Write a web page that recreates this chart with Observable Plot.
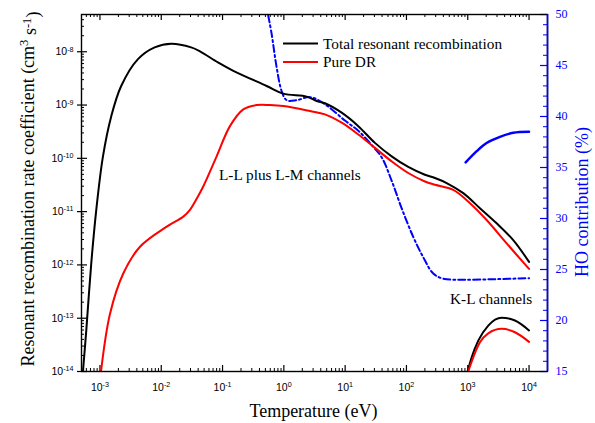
<!DOCTYPE html>
<html><head><meta charset="utf-8">
<script src="https://cdn.jsdelivr.net/npm/d3@7"></script>
<script src="https://cdn.jsdelivr.net/npm/@observablehq/plot@0.6"></script>
<style>body{margin:0;background:#fff}</style>
</head><body><div id="chart"></div>
<script>
// ---- data ----
const totalLL_T = [5.28e-4, 5.98e-4, 7.21e-4, 8.71e-4, 1.12e-3, 1.53e-3, 2.22e-3, 4.17e-3, 7.8e-3, 1.46e-2, 3.08e-2, 4.28e-2, 8.41e-2, 0.150, 0.524, 0.977, 2.355, 3.43, 4.68, 8.77, 16.4, 30.6, 57.4, 107, 200, 292, 453, 845, 1581, 2958, 5521, 1e4];
const totalLL_v = [1e-14, 5.86e-14, 1.06e-12, 1.08e-11, 1.09e-10, 6.19e-10, 2.28e-9, 7.28e-9, 1.21e-8, 1.42e-8, 1.21e-8, 1.02e-8, 6.31e-9, 4.39e-9, 2.28e-9, 1.64e-9, 1.44e-9, 1.19e-9, 1.08e-9, 7.19e-10, 4.02e-10, 1.95e-10, 1.09e-10, 6.89e-11, 4.92e-11, 4.27e-11, 3.44e-11, 2.22e-11, 1.16e-11, 6.04e-12, 2.92e-12, 1.14e-12];
const pureLL_T = [1.04e-3, 1.46e-3, 2.40e-3, 4.50e-3, 1.23e-2, 2.29e-2, 2.94e-2, 3.78e-2, 4.84e-2, 8.01e-2, 0.132, 0.218, 0.360, 0.593, 0.977, 2.67, 4.68, 8.77, 16.4, 30.6, 57.4, 107, 200, 292, 581, 1087, 2032, 4315, 1e4];
const pureLL_v = [1e-14, 1.21e-13, 6.89e-13, 2.19e-12, 5.22e-12, 8.05e-12, 1.08e-11, 1.74e-11, 2.96e-11, 1.09e-10, 4.02e-10, 8.30e-10, 1.0e-9, 1.0e-9, 9.58e-10, 7.71e-10, 6.68e-10, 4.66e-10, 2.80e-10, 1.57e-10, 8.77e-11, 5.31e-11, 3.68e-11, 3.19e-11, 2.56e-11, 1.44e-11, 6.97e-12, 2.54e-12, 8.4e-13];
const totalKL_T = [995, 1159, 1484, 2161, 3573, 5888, 1e4];
const totalKL_v = [1e-14, 1.84e-14, 3.79e-14, 7.28e-14, 1.02e-13, 9.06e-14, 5.9e-14];
const pureKL_T = [1018, 1230, 1581, 2161, 3573, 5888, 1e4];
const pureKL_v = [1e-14, 1.84e-14, 3.52e-14, 5.21e-14, 6.31e-14, 5.45e-14, 3.6e-14];
// HO contribution (%), right axis
const hoLL_T = [0.556, 0.632, 0.764, 0.92, 1.11, 1.62, 2.67, 4.68, 9.93, 16.4, 27.1, 39.4, 57.4, 83.6, 129, 188, 274, 398, 845, 2750, 1e4];
const hoLL_p = [49.9, 48.1, 44.8, 42.5, 41.6, 41.6, 41.9, 41.2, 39.6, 38.6, 37.2, 36.0, 33.7, 31.0, 28.2, 26.2, 24.6, 24.1, 24.0, 24.05, 24.15];
const hoKL_T = [925, 1400, 2030, 3350, 5520, 1e4];
const hoKL_p = [35.5, 36.6, 37.4, 38.0, 38.4, 38.5];

// tick labels
const xMajor = [1e-3, 1e-2, 1e-1, 1e0, 1e1, 1e2, 1e3, 1e4];
const yMajor = [1e-14, 1e-13, 1e-12, 1e-11, 1e-10, 1e-9, 1e-8];
const pMajor = [15, 20, 25, 30, 35, 40, 45, 50];

// ---- layout ----
const W = 595, H = 423, mL = 81, mR = 48, mT = 14, mB = 52;
const iw = W - mL - mR, ih = H - mT - mB;
const xDom = [5e-4, 2e4], yDom = [1e-14, 5e-8], pDom = [15, 50];
const BLUE = "#0000ff", RED = "#ff0000";
const lyLo = Math.log10(yDom[0]), lyHi = Math.log10(yDom[1]);
const pToY = p => Math.pow(10, lyLo + (p - pDom[0]) / (pDom[1] - pDom[0]) * (lyHi - lyLo));

const xMinor = [], yMinor = [], pMinor = [];
for (let k = -4; k <= 4; k++) for (let m = 2; m <= 9; m++) { const v = m * 10 ** k; if (v > xDom[0] * 1.0001 && v < xDom[1] * 0.9999) xMinor.push(v); }
for (let k = -14; k <= -8; k++) for (let m = 2; m <= 9; m++) { const v = m * 10 ** k; if (v > yDom[0] && v < yDom[1] * 0.9999) yMinor.push(v); }
for (let p = 16; p < 50; p++) if (p % 5) pMinor.push(p);

const zipTV = (T, v) => T.map((t, i) => ({T: t, v: v[i]}));
const zipTP = (T, p) => T.map((t, i) => ({T: t, v: pToY(p[i])}));
const pMajorRows = pMajor.map(p => ({v: pToY(p), label: String(p)}));
const pMinorRows = pMinor.map(p => ({v: pToY(p)}));

const expFmt = d => "10^" + Math.round(Math.log10(d));
const serif = "Liberation Serif, Times New Roman, serif";

const svg = Plot.plot({
  width: W, height: H, marginLeft: mL, marginRight: mR, marginTop: mT, marginBottom: mB,
  x: {type: "log", domain: xDom, axis: null},
  y: {type: "log", domain: yDom, axis: null},
  style: {fontFamily: "Liberation Sans, Arial, sans-serif", fontSize: "10.5px", background: "white", color: "black"},
  marks: [
    Plot.axisX({ticks: xMajor, tickSize: 0, tickPadding: 12, tickFormat: expFmt, label: null}),
    Plot.axisY({ticks: yMajor, tickSize: 0, tickPadding: 8, tickFormat: expFmt, label: null}),
    // right axis labels
    Plot.text(pMajorRows, {y: "v", text: "label", frameAnchor: "right", dx: 8, textAnchor: "start", fill: BLUE, fontFamily: serif, fontSize: 12}),
    // inward ticks, bottom & top
    Plot.tickX(xMajor, {x: d => d, insetTop: ih - 6, stroke: "black", strokeWidth: 1.2}),
    Plot.tickX(xMinor, {x: d => d, insetTop: ih - 3, stroke: "black", strokeWidth: 1}),
    Plot.tickX(xMajor, {x: d => d, insetBottom: ih - 6, stroke: "black", strokeWidth: 1.2}),
    Plot.tickX(xMinor, {x: d => d, insetBottom: ih - 3, stroke: "black", strokeWidth: 1}),
    // left ticks
    Plot.tickY(yMajor, {y: d => d, insetLeft: -4, insetRight: iw - 6, stroke: "black", strokeWidth: 1.2}),
    Plot.tickY(yMinor, {y: d => d, insetRight: iw - 3, stroke: "black", strokeWidth: 1}),
    // right blue ticks
    Plot.tickY(pMajorRows, {y: "v", insetLeft: iw - 7, stroke: BLUE, strokeWidth: 1.2}),
    Plot.tickY(pMinorRows, {y: "v", insetLeft: iw - 4, stroke: BLUE, strokeWidth: 1}),
    // curves
    Plot.line(zipTP(hoLL_T, hoLL_p), {x: "T", y: "v", stroke: BLUE, strokeWidth: 2, strokeDasharray: "7,3,2,3", curve: "catmull-rom", clip: true}),
    Plot.line(zipTP(hoKL_T, hoKL_p), {x: "T", y: "v", stroke: BLUE, strokeWidth: 2.5, curve: "catmull-rom", clip: true}),
    Plot.line(zipTV(totalLL_T, totalLL_v), {x: "T", y: "v", stroke: "black", strokeWidth: 2, curve: "catmull-rom", clip: true}),
    Plot.line(zipTV(pureLL_T, pureLL_v), {x: "T", y: "v", stroke: RED, strokeWidth: 2, curve: "catmull-rom", clip: true}),
    Plot.line(zipTV(totalKL_T, totalKL_v), {x: "T", y: "v", stroke: "black", strokeWidth: 2, curve: "monotone-x", clip: true}),
    Plot.line(zipTV(pureKL_T, pureKL_v), {x: "T", y: "v", stroke: RED, strokeWidth: 2, curve: "monotone-x", clip: true}),
    Plot.frame({stroke: "black", strokeWidth: 1.4}),
    Plot.ruleX([xDom[1]], {stroke: BLUE, strokeWidth: 1.6})
  ]
});

const s = d3.select(svg);
s.selectAll('g[aria-label="x-axis tick label"] text, g[aria-label="y-axis tick label"] text').each(function () {
  const m = this.textContent.match(/^10\^(.+)$/);
  if (!m) return;
  const el = d3.select(this);
  el.text(null);
  el.append("tspan").text("10");
  el.append("tspan").attr("dy", "-0.5em").attr("font-size", "0.68em").text(m[1]);
});

const g = s.append("g").attr("font-family", serif).attr("text-anchor", "start");
const yl = g.append("text").attr("transform", "translate(34,189) rotate(-90)").attr("text-anchor", "middle").attr("font-size", 18);
yl.append("tspan").text("Resonant recombination rate coefficient (cm");
yl.append("tspan").attr("dy", "-0.45em").attr("font-size", "0.7em").text("3");
yl.append("tspan").attr("dy", "0.45em").text(" s");
yl.append("tspan").attr("dy", "-0.45em").attr("font-size", "0.7em").text("-1");
yl.append("tspan").attr("dy", "0.45em").text(")");
g.append("text").attr("x", 313.5).attr("y", 417).attr("text-anchor", "middle").attr("font-size", 18).text("Temperature (eV)");
g.append("text").attr("transform", "translate(588,202) rotate(-90)").attr("text-anchor", "middle").attr("font-size", 18).attr("fill", BLUE).text("HO contribution (%)");
g.append("line").attr("x1", 283).attr("x2", 318).attr("y1", 43.5).attr("y2", 43.5).attr("stroke", "black").attr("stroke-width", 2);
g.append("text").attr("x", 323).attr("y", 48.5).attr("font-size", 15.3).text("Total resonant recombination");
g.append("line").attr("x1", 283).attr("x2", 318).attr("y1", 62).attr("y2", 62).attr("stroke", RED).attr("stroke-width", 2);
g.append("text").attr("x", 323).attr("y", 67).attr("font-size", 15.3).text("Pure DR");
g.append("text").attr("x", 219).attr("y", 179.5).attr("font-size", 15.3).text("L-L plus L-M channels");
g.append("text").attr("x", 450).attr("y", 304).attr("font-size", 15.3).text("K-L channels");

document.getElementById("chart").appendChild(svg);
</script>
</body></html>
